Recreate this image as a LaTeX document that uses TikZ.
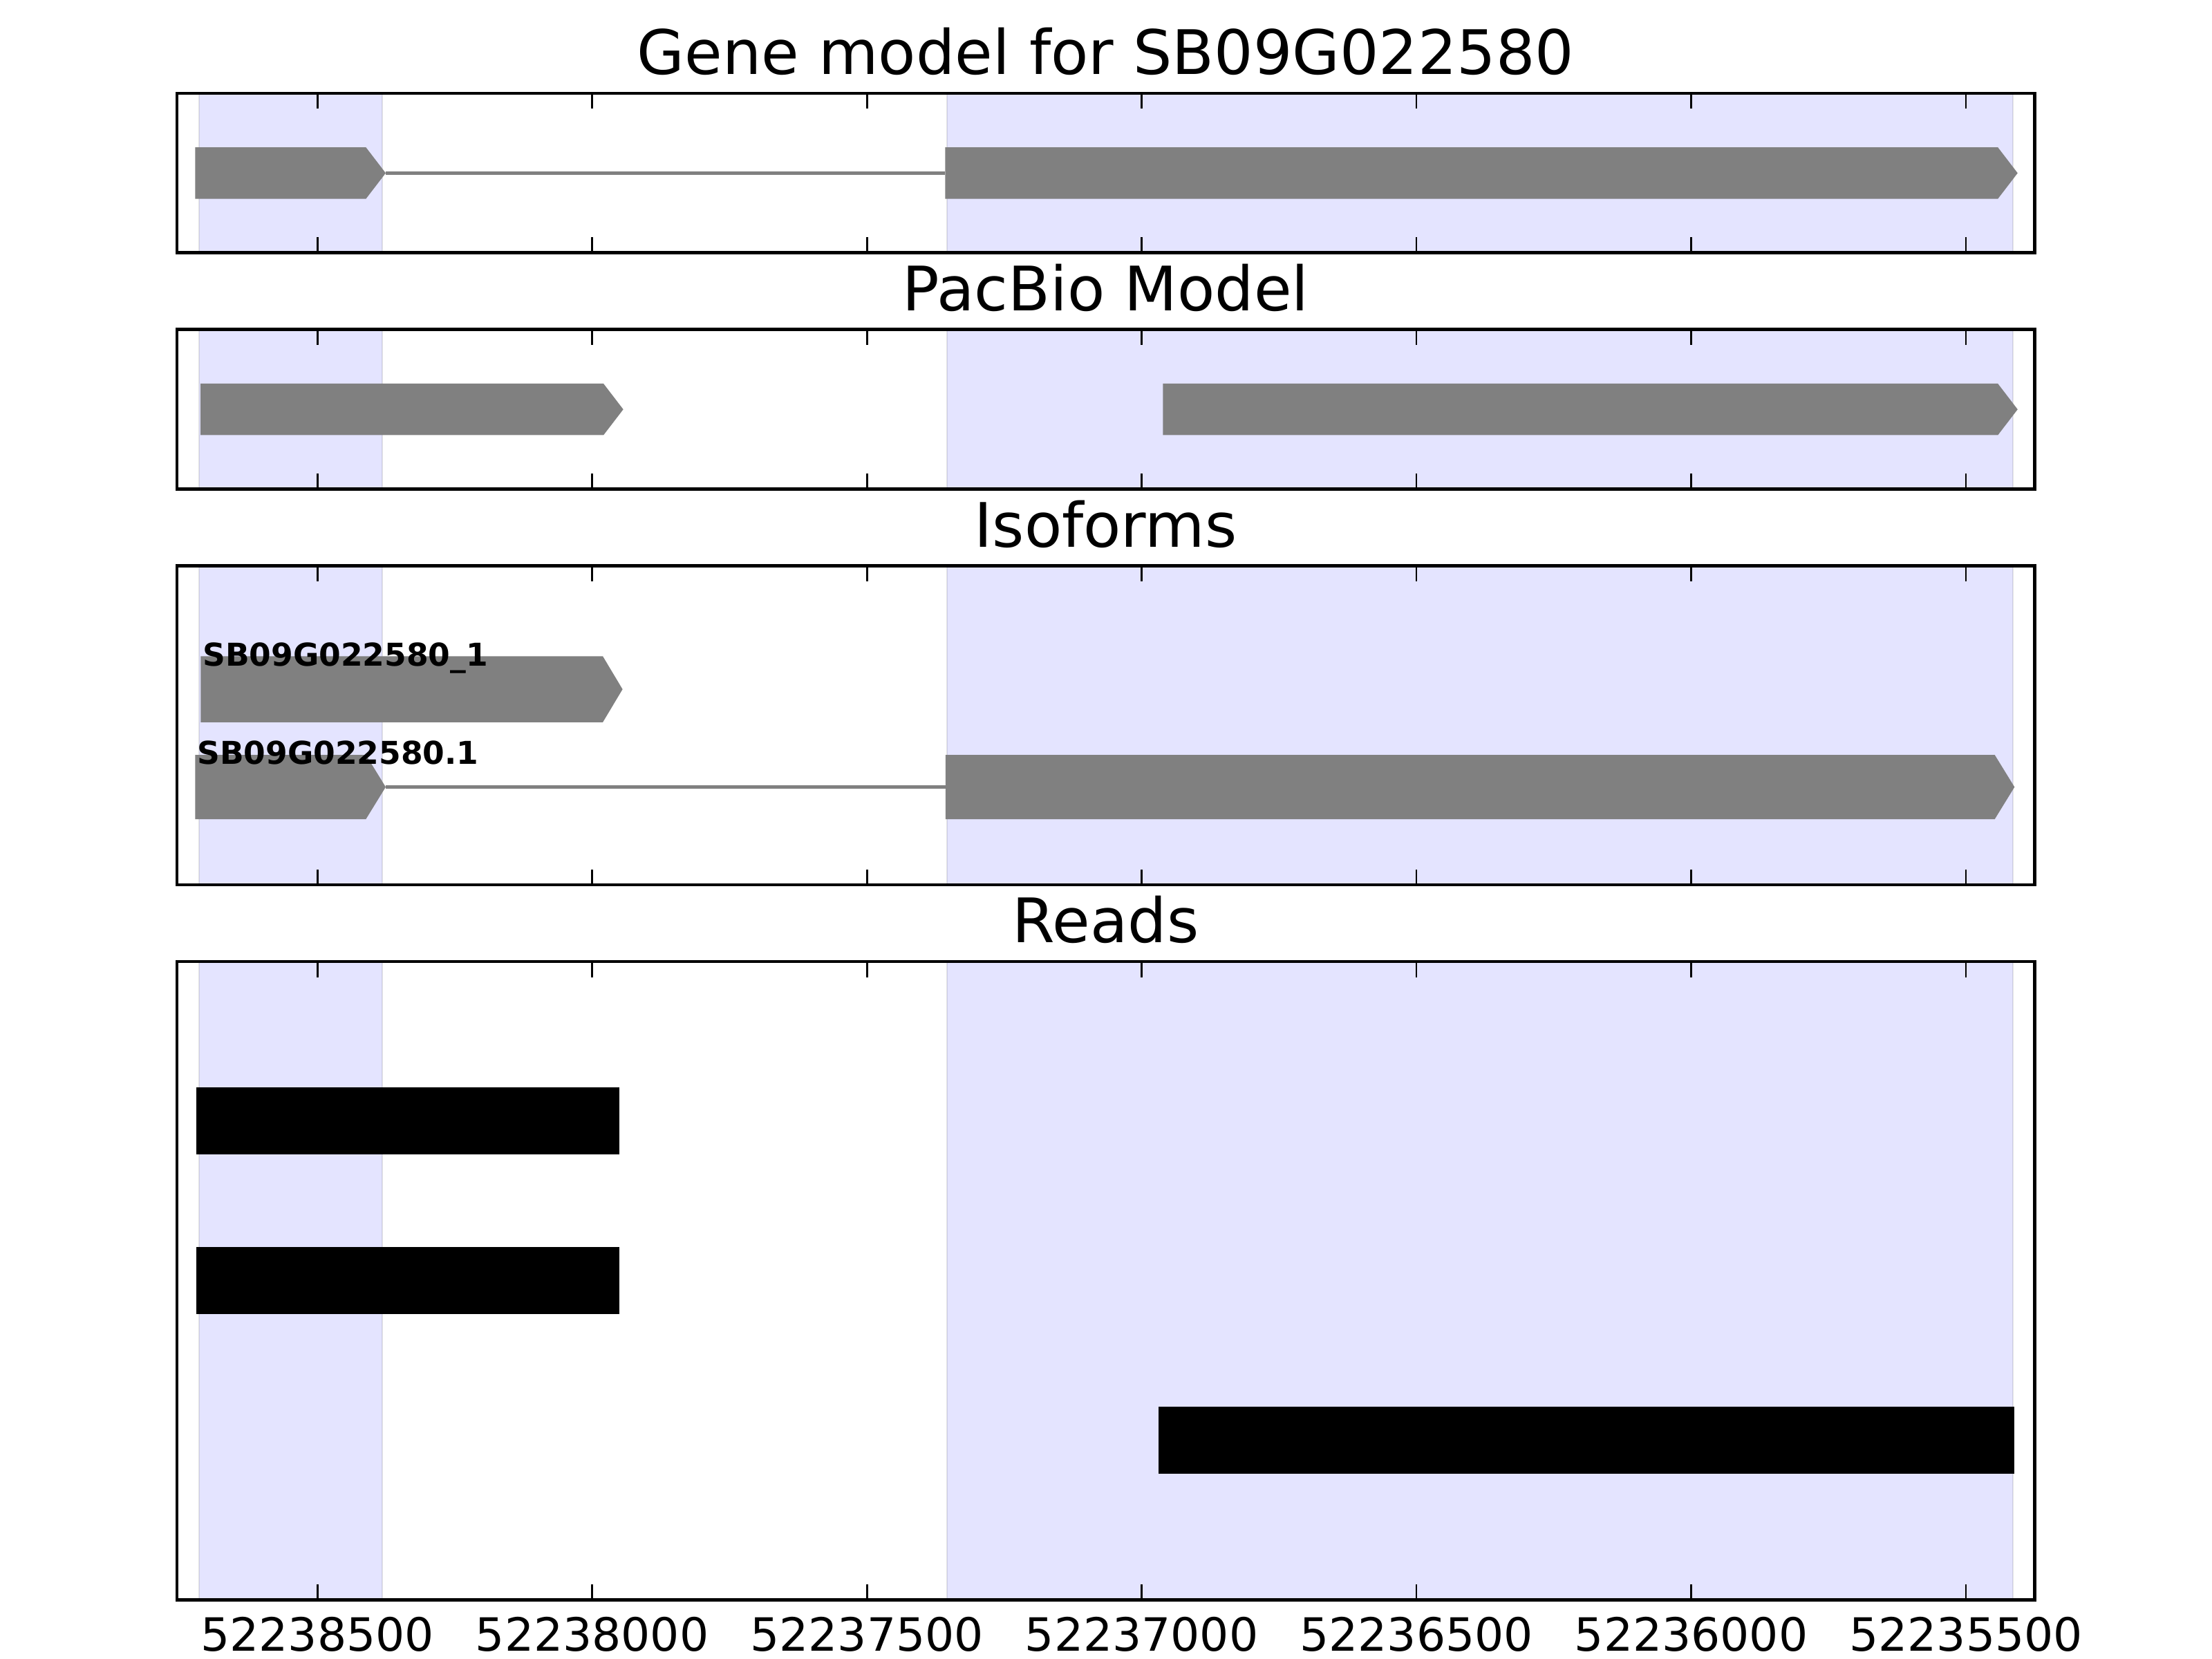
\documentclass[tikz,border=0pt]{standalone}
\usepackage{fontspec}
\setmainfont{DejaVu Sans}
\newcommand\exonshape[4]{% x1, x2 (tip), y centre, height
  \fill[exon] (#1,#3-#4/2) -- (#2-14,#3-#4/2) -- (#2,#3) -- (#2-14,#3+#4/2) -- (#1,#3+#4/2) -- cycle;}
\begin{document}
\begin{tikzpicture}[x=0.5pt,y=-0.5pt,
  span/.style={fill={rgb,255:red,228;green,228;blue,255}, draw=black, draw opacity=0.1, line width=0.5pt},
  exon/.style={fill={rgb,255:red,128;green,128;blue,128}},
  intron/.style={draw={rgb,255:red,128;green,128;blue,128}, line width=1.35pt},
  readbar/.style={fill=black},
  frame/.style={draw=black, line width=1.1pt},
  tickmark/.style={draw=black, line width=0.65pt},
  ptitle/.style={font=\fontsize{21.75pt}{26pt}\selectfont, anchor=base, inner sep=0pt},
  ticklab/.style={font=\fontsize{16.25pt}{19pt}\selectfont, anchor=base, inner sep=0pt},
  isolab/.style={font=\fontsize{11.15pt}{13pt}\selectfont\bfseries, anchor=base west, inner sep=0pt}]
\useasboundingbox[fill=white] (0,0) rectangle (1568,1176);

% shaded exon spans in every panel
\foreach \t/\b in {66.1/179.2, 233.6/346.7, 401.1/627.3, 681.7/1134.1}{
  \draw[span] (141.3,\t) rectangle (270.8,\b);
  \draw[span] (671.5,\t) rectangle (1426.8,\b);
}

% Panel 1: gene model
\exonshape{138.4}{273.4}{122.7}{36.5}
\draw[intron] (273.4,122.7) -- (670,122.7);
\exonshape{670}{1430.2}{122.7}{36.5}

% Panel 2: PacBio model
\exonshape{142.1}{441.8}{290.2}{36.5}
\exonshape{824.3}{1430.2}{290.2}{36.5}

% Panel 3: isoforms
\exonshape{142.3}{441.3}{488.6}{46.8}
\exonshape{138.4}{273.4}{557.9}{45.5}
\draw[intron] (273.4,557.9) -- (670.3,557.9);
\exonshape{670.3}{1428}{557.9}{45.5}
\node[isolab] (iso1) at (143.3,472) {SB09G022580\_1};
\node[isolab] (iso2) at (139.4,541.8) {SB09G022580.1};

% Panel 4: reads
\fill[readbar] (139.2,770.9) rectangle (439.2,818.4);
\fill[readbar] (139.2,883.9) rectangle (439.2,931.6);
\fill[readbar] (821,997) rectangle (1427.6,1044.6);

% frames and ticks
\foreach \t/\b in {66.1/179.2, 233.6/346.7, 401.1/627.3, 681.7/1134.1}{
  \foreach \i in {0,...,6}{
    \pgfmathsetmacro\tx{225+194.77*\i}
    \draw[tickmark] (\tx,\t) -- ++(0,11);
    \draw[tickmark] (\tx,\b) -- ++(0,-11);
  }
  \draw[frame] (125.4,\t) rectangle (1442.2,\b);
}

% titles
\node[ptitle] (t1) at (783.8,52.7) {Gene model for SB09G022580};
\node[ptitle] (t2) at (783.8,220.2) {PacBio Model};
\node[ptitle] (t3) at (783.8,387.7) {Isoforms};
\node[ptitle] (t4) at (783.8,668.3) {Reads};

% tick labels
\foreach \i in {0,...,6}{
  \pgfmathsetmacro\tx{225+194.77*\i}
  \node[ticklab] (xl\i) at (\tx,1170.3) {\the\numexpr 52238500-500*\i\relax};
}
\end{tikzpicture}
\end{document}
